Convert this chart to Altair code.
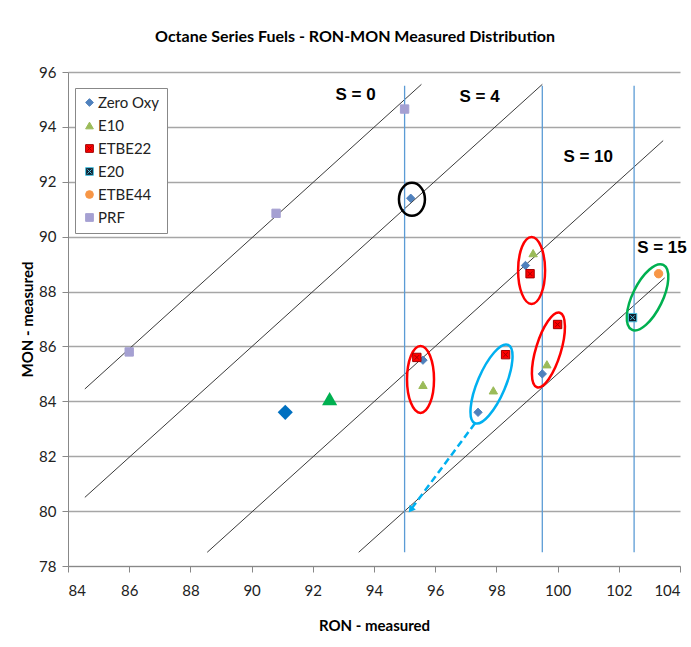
import altair as alt
import pandas as pd

# ---- measured fuels (RON, MON) ----
series_names = ["Zero Oxy", "E10", "ETBE22", "E20", "ETBE44", "PRF"]

zero_oxy_ron = [95.2, 95.6, 98.95, 99.5, 97.4]
zero_oxy_mon = [91.4, 85.5, 88.95, 85.0, 83.6]
e10_ron = [95.6, 99.2, 99.65, 97.9]
e10_mon = [84.6, 89.4, 85.35, 84.4]
etbe22_ron = [95.4, 99.1, 100.0, 98.3]
etbe22_mon = [85.6, 88.65, 86.8, 85.7]
e20_ron = [102.45]
e20_mon = [87.05]
etbe44_ron = [103.3]
etbe44_mon = [88.65]
prf_ron = [86.0, 90.8, 95.0]
prf_mon = [85.8, 90.85, 94.65]

# base fuels shown with large markers
base_ron = [91.1, 92.55]
base_mon = [83.6, 84.1]
base_shape = ["diamond", "triangle-up"]
base_color = ["#0070C0", "#00B050"]

# sensitivity guide lines (start RON, start MON, end RON, end MON)
guide_r0 = [84.55, 84.55, 88.55, 93.5]
guide_m0 = [84.45, 80.5, 78.5, 78.5]
guide_r1 = [95.55, 99.5, 103.45, 103.5]
guide_m1 = [95.55, 95.55, 93.5, 88.5]

# vertical RON markers
vline_ron = [95.0, 99.5, 102.5]
vline_m0 = [78.5, 78.5, 78.5]
vline_m1 = [95.5, 95.5, 95.5]

# sensitivity labels
s_text = ["S = 0", "S = 4", "S = 10", "S = 15"]
s_ron = [93.4, 97.45, 101.0, 102.6]
s_mon = [95.15, 95.1, 92.9, 89.6]
s_align = ["center", "center", "center", "left"]

# highlight ellipses: centre, width/height in px, tilt, colour
ell_ron = [95.24, 95.52, 99.15, 99.7, 97.84, 102.94]
ell_mon = [91.36, 84.8, 88.77, 85.87, 84.63, 87.79]
ell_w = [26, 27, 27, 25, 28, 30]
ell_h = [33, 67, 67, 78, 85, 72]
ell_tilt = [0, 0, 0, 17, 23, 26]
ell_color = ["#000000", "#FF0000", "#FF0000", "#FF0000", "#00B0F0", "#00B050"]

# dashed trend arrow (from, to)
arrow_ron = [97.3, 95.2]
arrow_mon = [83.2, 80.05]

# ---- tables ----
rows = []
for name, rr, mm in [
    ("Zero Oxy", zero_oxy_ron, zero_oxy_mon),
    ("E10", e10_ron, e10_mon),
    ("ETBE22", etbe22_ron, etbe22_mon),
    ("E20", e20_ron, e20_mon),
    ("ETBE44", etbe44_ron, etbe44_mon),
    ("PRF", prf_ron, prf_mon),
]:
    for r, m in zip(rr, mm):
        rows.append({"series": name, "RON": r, "MON": m})
points = pd.DataFrame(rows)

base = pd.DataFrame({"RON": base_ron, "MON": base_mon, "shape": base_shape, "col": base_color})
guides = pd.DataFrame({"r0": guide_r0, "m0": guide_m0, "r1": guide_r1, "m1": guide_m1})
vlines = pd.DataFrame({"r": vline_ron, "m0": vline_m0, "m1": vline_m1})
slabels = pd.DataFrame({"t": s_text, "RON": s_ron, "MON": s_mon, "al": s_align})
arrow = pd.DataFrame({"RON": arrow_ron, "MON": arrow_mon, "o": [0, 1]})
arrow_tip = arrow.iloc[[1]]

K = 0.5523


def ellipse_path(w, h):
    a = w / h
    return (
        f"M0,-1C{K*a:.4f},-1 {a:.4f},-{K} {a:.4f},0"
        f"C{a:.4f},{K} {K*a:.4f},1 0,1"
        f"C-{K*a:.4f},1 -{a:.4f},{K} -{a:.4f},0"
        f"C-{a:.4f},-{K} -{K*a:.4f},-1 0,-1Z"
    )


ellipses = pd.DataFrame({
    "RON": ell_ron,
    "MON": ell_mon,
    "path": [ellipse_path(w, h) for w, h in zip(ell_w, ell_h)],
    "area": [h * h for h in ell_h],
    "tilt": ell_tilt,
    "col": ell_color,
})

FONT = "Lato"
W, H = 612, 494

xs = alt.Scale(domain=[84, 104], nice=False, zero=False)
ys = alt.Scale(domain=[78, 96], nice=False, zero=False)

x_axis = alt.Axis(
    values=list(range(84, 105, 2)), grid=False, title="RON - measured",
    titleFont=FONT, titleFontSize=15, titleFontWeight="bold", titleColor="#000",
    titlePadding=20, labelFont=FONT, labelFontSize=15, labelColor="#222",
    labelPadding=11, tickSize=6, tickColor="#888", domainColor="#888",
)
y_axis = alt.Axis(
    values=list(range(78, 97, 2)), grid=True, gridColor="#A6A6A6", gridWidth=1.5,
    title="MON - measured", titleFont=FONT, titleFontSize=15, titleFontWeight="bold",
    titleColor="#000", titlePadding=3, labelFont=FONT, labelFontSize=15,
    labelColor="#222", labelPadding=6, tickSize=6, tickColor="#888", domainColor="#888",
)

# guide lines
guide_layer = alt.Chart(guides).mark_rule(color="#3A3A3A", strokeWidth=1).encode(
    x=alt.X("r0:Q", scale=xs, axis=x_axis),
    y=alt.Y("m0:Q", scale=ys, axis=y_axis),
    x2="r1:Q",
    y2="m1:Q",
)

vline_layer = alt.Chart(vlines).mark_rule(color="#5B9BD5", strokeWidth=1.3).encode(
    x=alt.X("r:Q", scale=xs), y=alt.Y("m0:Q", scale=ys), y2="m1:Q"
)

arrow_line = alt.Chart(arrow).mark_line(
    color="#00B0F0", strokeWidth=2.5, strokeDash=[7, 4]
).encode(x=alt.X("RON:Q", scale=xs), y=alt.Y("MON:Q", scale=ys), order="o:Q")

arrow_head = alt.Chart(arrow_tip).mark_point(
    shape="triangle-up", filled=True, color="#00B0F0", size=60, angle=217, opacity=1
).encode(x=alt.X("RON:Q", scale=xs), y=alt.Y("MON:Q", scale=ys))

ellipse_layer = alt.Chart(ellipses).mark_point(filled=False, strokeWidth=2.5, opacity=1).encode(
    x=alt.X("RON:Q", scale=xs),
    y=alt.Y("MON:Q", scale=ys),
    shape=alt.Shape("path:N", scale=None),
    size=alt.Size("area:Q", scale=None),
    angle=alt.Angle("tilt:Q", scale=None),
    stroke=alt.Stroke("col:N", scale=None),
)

SQ_X = "M-1,-1L1,-1L1,1L-1,1Z M-0.55,-0.55L0.55,0.55 M-0.55,0.55L0.55,-0.55"
fill_range = ["#4F81BD", "#9BBB59", "#FF0000", "#0F1F2F", "#F79646", "#A5A0D2"]
stroke_range = ["#4F81BD", "#9BBB59", "#A00000", "#4BC3E0", "#F79646", "#A5A0D2"]
shape_range = ["diamond", "triangle-up", SQ_X, SQ_X, "circle", "square"]

legend = alt.Legend(
    title=None, orient="none", legendX=7, legendY=16, labelFont=FONT, labelFontSize=15,
    labelColor="#222", rowPadding=7, padding=7, strokeColor="#888", fillColor="white",
    symbolStrokeWidth=1, symbolSize=60, labelOffset=1,
)

point_layer = alt.Chart(points).mark_point(filled=True, size=70, strokeWidth=1, opacity=1).encode(
    x=alt.X("RON:Q", scale=xs),
    y=alt.Y("MON:Q", scale=ys),
    fill=alt.Fill("series:N", scale=alt.Scale(domain=series_names, range=fill_range), legend=legend),
    stroke=alt.Stroke("series:N", scale=alt.Scale(domain=series_names, range=stroke_range), legend=legend),
    shape=alt.Shape("series:N", scale=alt.Scale(domain=series_names, range=shape_range), legend=legend),
)

base_layer = alt.Chart(base).mark_point(filled=True, size=230, opacity=1).encode(
    x=alt.X("RON:Q", scale=xs),
    y=alt.Y("MON:Q", scale=ys),
    shape=alt.Shape("shape:N", scale=None),
    fill=alt.Fill("col:N", scale=None),
)

text_style = dict(font="Liberation Sans", fontSize=17, fontWeight="bold", color="#000", baseline="middle")
label_center = alt.Chart(slabels[slabels["al"] == "center"]).mark_text(
    align="center", **text_style
).encode(x=alt.X("RON:Q", scale=xs), y=alt.Y("MON:Q", scale=ys), text="t:N")
label_left = alt.Chart(slabels[slabels["al"] == "left"]).mark_text(
    align="left", **text_style
).encode(x=alt.X("RON:Q", scale=xs), y=alt.Y("MON:Q", scale=ys), text="t:N")

chart = alt.layer(
    guide_layer, vline_layer, arrow_line, arrow_head, ellipse_layer,
    point_layer, base_layer, label_center, label_left,
).properties(
    width=W,
    height=H,
    autosize=alt.AutoSizeParams(type="none"),
    padding={"left": 68, "top": 72, "right": 11, "bottom": 81},
    title=alt.TitleParams(
        "Octane Series Fuels - RON-MON Measured Distribution",
        font=FONT, fontSize=16, fontWeight="bold", color="#000",
        anchor="middle", frame="group", dx=-19, offset=20,
    ),
).configure(background="white").configure_view(stroke=None)

chart.save("out.html", embed_options={"renderer": "svg", "actions": False})
